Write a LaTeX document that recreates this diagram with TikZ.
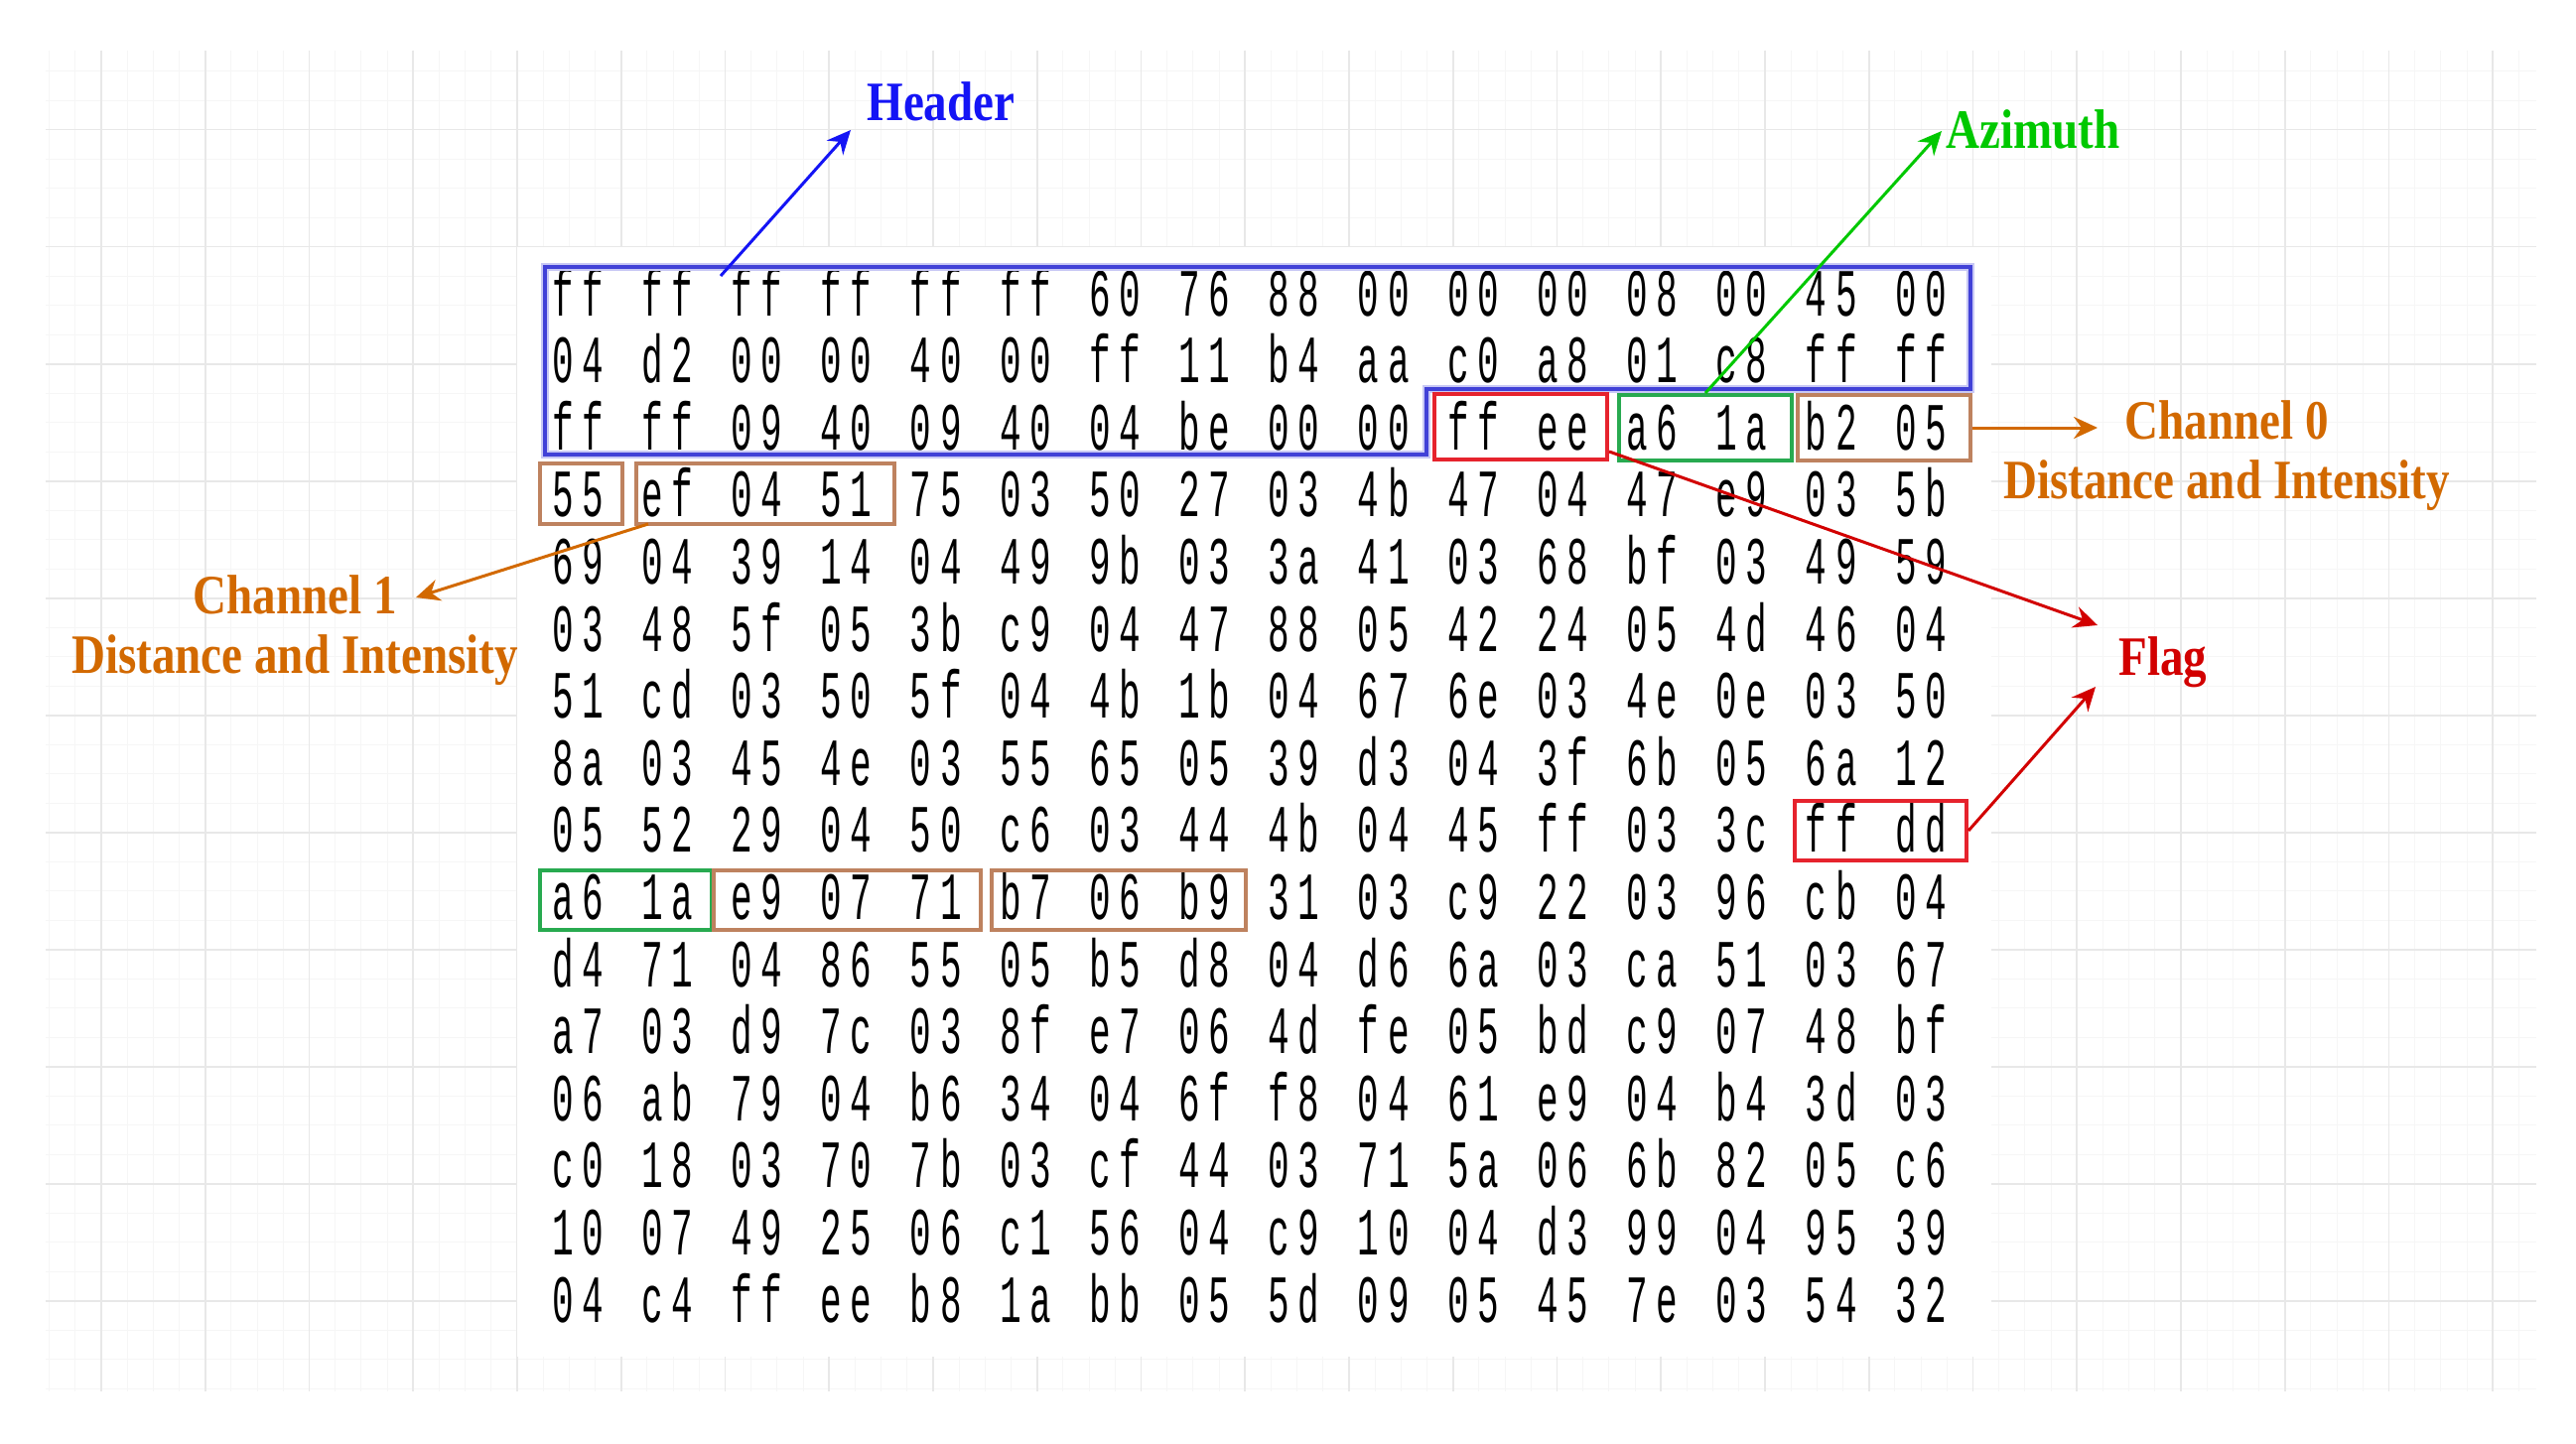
\documentclass[tikz,border=0pt]{standalone}
\usepackage{fontspec}
\usetikzlibrary{arrows.meta}
\newfontfamily\hexfont[FakeStretch=0.53]{Liberation Mono}
\newfontfamily\lblfont[FakeStretch=0.84]{Liberation Serif}
\def\hexsplit#1#2\relax{#1\kern4.3pt#2}
\definecolor{hdrblue}{RGB}{20,20,245}
\definecolor{boxblue}{RGB}{65,65,215}
\definecolor{boxbluehalo}{RGB}{200,200,245}
\definecolor{azgreen}{RGB}{0,200,0}
\definecolor{boxgreen}{RGB}{40,170,80}
\definecolor{chorange}{RGB}{210,105,0}
\definecolor{boxorange}{RGB}{190,130,95}
\definecolor{flagred}{RGB}{210,0,0}
\definecolor{boxred}{RGB}{230,35,45}
\definecolor{gridmaj}{RGB}{232,232,232}
\definecolor{gridmin}{RGB}{246,246,246}
\tikzset{
  gridminor/.style={draw=gridmin, line width=0.5pt},
  gridmajor/.style={draw=gridmaj, line width=0.8pt},
  hexcell/.style={anchor=base, inner sep=0pt, font=\hexfont\fontsize{34}{34}\selectfont},
  markbox/.style={draw, line width=2pt, inner sep=0pt, rectangle},
  lbl/.style={inner sep=0pt, font=\lblfont\bfseries\fontsize{28}{30}\selectfont},
  pointer/.style={line width=1.5pt, -{Stealth[length=12pt,width=11pt,inset=4pt]}},
}
\begin{document}
\begin{tikzpicture}[x=0.5pt,y=-0.5pt]
\useasboundingbox (0,0) rectangle (2595,1455);
\fill[white] (0,0) rectangle (2595,1455);
% background grid
\foreach \k in {-2,...,93} {
  \pgfmathsetmacro\xx{102+\k*26.1875}
  \draw[gridminor] (\xx,51) -- (\xx,1402);
}
\foreach \k in {-2,...,43} {
  \pgfmathsetmacro\yy{130.7+\k*29.5}
  \draw[gridminor] (46,\yy) -- (2555,\yy);
}
\foreach \k in {0,...,23} {
  \pgfmathsetmacro\xx{102+\k*104.75}
  \draw[gridmajor] (\xx,51) -- (\xx,1402);
}
\foreach \k in {0,...,10} {
  \pgfmathsetmacro\yy{130.7+\k*118}
  \draw[gridmajor] (46,\yy) -- (2555,\yy);
}
\fill[white] (521,249) rectangle (2006,1367);
% hex dump
\foreach [count=\r] \rowdata in {
 {ff,ff,ff,ff,ff,ff,60,76,88,00,00,00,08,00,45,00},
 {04,d2,00,00,40,00,ff,11,b4,aa,c0,a8,01,c8,ff,ff},
 {ff,ff,09,40,09,40,04,be,00,00,ff,ee,a6,1a,b2,05},
 {55,ef,04,51,75,03,50,27,03,4b,47,04,47,e9,03,5b},
 {69,04,39,14,04,49,9b,03,3a,41,03,68,bf,03,49,59},
 {03,48,5f,05,3b,c9,04,47,88,05,42,24,05,4d,46,04},
 {51,cd,03,50,5f,04,4b,1b,04,67,6e,03,4e,0e,03,50},
 {8a,03,45,4e,03,55,65,05,39,d3,04,3f,6b,05,6a,12},
 {05,52,29,04,50,c6,03,44,4b,04,45,ff,03,3c,ff,dd},
 {a6,1a,e9,07,71,b7,06,b9,31,03,c9,22,03,96,cb,04},
 {d4,71,04,86,55,05,b5,d8,04,d6,6a,03,ca,51,03,67},
 {a7,03,d9,7c,03,8f,e7,06,4d,fe,05,bd,c9,07,48,bf},
 {06,ab,79,04,b6,34,04,6f,f8,04,61,e9,04,b4,3d,03},
 {c0,18,03,70,7b,03,cf,44,03,71,5a,06,6b,82,05,c6},
 {10,07,49,25,06,c1,56,04,c9,10,04,d3,99,04,95,39},
 {04,c4,ff,ee,b8,1a,bb,05,5d,09,05,45,7e,03,54,32}} {
  \foreach [count=\c] \b in \rowdata {
    \node[hexcell] (h-\r-\c) at ({582+(\c-1)*90.2},{318+(\r-1)*67.6}) {\expandafter\hexsplit\b\relax};
  }
}
% header outline
\draw[boxbluehalo, line width=3.6pt, line join=miter]
  (549,269) -- (1985,269) -- (1985,392) -- (1437,392) -- (1437,458) -- (549,458) -- cycle;
\draw[boxblue, line width=2pt, line join=miter]
  (549,269) -- (1985,269) -- (1985,392) -- (1437,392) -- (1437,458) -- (549,458) -- cycle;
% marked fields
\node[markbox, draw=boxred, minimum width=87pt, minimum height=33pt] (ffee) at (1532,430) {};
\node[markbox, draw=boxgreen, minimum width=87pt, minimum height=33pt] (azA) at (1718,431) {};
\node[markbox, draw=boxorange, minimum width=87pt, minimum height=33pt] (chA) at (1898,431) {};
\node[markbox, draw=boxorange, minimum width=41.5pt, minimum height=30.5pt] (chB) at (585.5,497.5) {};
\node[markbox, draw=boxorange, minimum width=130pt, minimum height=30.5pt] (chC) at (771,497.5) {};
\node[markbox, draw=boxred, minimum width=86.5pt, minimum height=30pt] (ffdd) at (1894.5,837) {};
\node[markbox, draw=boxgreen, minimum width=86.5pt, minimum height=30pt] (azB) at (630.5,907) {};
\node[markbox, draw=boxorange, minimum width=134.5pt, minimum height=30pt] (chD) at (853.5,907) {};
\node[markbox, draw=boxorange, minimum width=128pt, minimum height=30pt] (chE) at (1127,907) {};
% labels
\node[lbl, text=hdrblue, anchor=base west] (hdr) at (873,122) {Header};
\node[lbl, text=azgreen, anchor=base west] (azim) at (1960,150) {Azimuth};
\node[lbl, text=chorange, anchor=base] (ch0a) at (2243,442) {Channel 0};
\node[lbl, text=chorange, anchor=base] (ch0b) at (2243,502) {Distance and Intensity};
\node[lbl, text=flagred, anchor=base west] (flag) at (2134,680) {Flag};
\node[lbl, text=chorange, anchor=base] (ch1a) at (297,618) {Channel 1};
\node[lbl, text=chorange, anchor=base] (ch1b) at (297,678) {Distance and Intensity};
% connector ends
\coordinate (hdrS) at (726,278);
\coordinate (hdrT) at (857,131);
\coordinate (azT) at (1956,132);
\coordinate (ch0T) at (2113,431);
\coordinate (flagS) at (1621,455);
\coordinate (flagT1) at (2113,630);
\coordinate (flagT2) at (2111,692);
\coordinate (ch1S) at (653,528);
\coordinate (ch1T) at (419,602);
% connectors
\draw[pointer, hdrblue] (hdrS) -- (hdrT);
\draw[pointer, azgreen] (azA.north) -- (azT);
\draw[pointer, chorange] (chA.east) -- (ch0T);
\draw[pointer, flagred] (flagS) -- (flagT1);
\draw[pointer, flagred] (ffdd.east) -- (flagT2);
\draw[pointer, chorange] (ch1S) -- (ch1T);
\end{tikzpicture}
\end{document}
